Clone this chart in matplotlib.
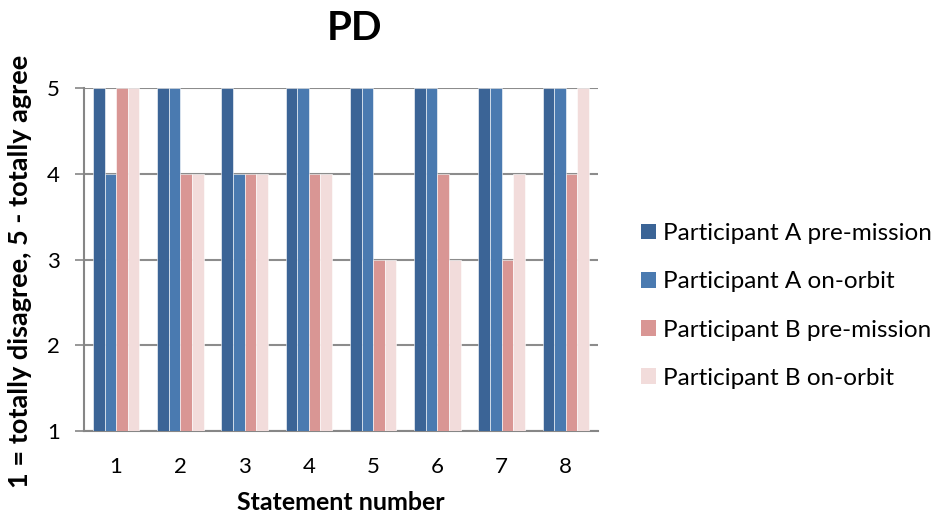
import numpy as np
import matplotlib.pyplot as plt
from matplotlib.patches import Patch

plt.rcParams['font.family'] = ['Lato', 'DejaVu Sans']

# Agreement ratings (1-5) per statement
statements = [1, 2, 3, 4, 5, 6, 7, 8]
a_pre = [5, 5, 5, 5, 5, 5, 5, 5]
a_orbit = [4, 5, 4, 5, 5, 5, 5, 5]
b_pre = [5, 4, 4, 4, 3, 4, 3, 4]
b_orbit = [5, 4, 4, 4, 3, 3, 4, 5]

series = [
    ('Participant A pre-mission', a_pre, '#3B6496'),
    ('Participant A on-orbit', a_orbit, '#4A7AB0'),
    ('Participant B pre-mission', b_pre, '#D99694'),
    ('Participant B on-orbit', b_orbit, '#F2DCDB'),
]

fig = plt.figure(figsize=(9.45, 5.21), dpi=100)
ax = fig.add_axes([84 / 945, 1 - 431 / 521, 514 / 945, 343 / 521])

x = np.arange(len(statements)) + 1
w = 0.18
for i, (name, vals, col) in enumerate(series):
    vals = np.array(vals)
    ax.bar(x + (i - 1.5) * w, vals - 1, w, bottom=1, color=col,
           edgecolor='white', linewidth=0.4, zorder=3)

ax.set_xlim(0.5, 8.5)
ax.set_ylim(1, 5)
ax.set_yticks([1, 2, 3, 4, 5])
ax.set_xticks(x)
ax.tick_params(axis='x', length=0, labelsize=16, pad=19)
ax.tick_params(axis='y', length=6.5, color='#868686', width=1.2, labelsize=16, pad=11)
ax.yaxis.grid(True, color='#8C8C8C', linewidth=1.5, zorder=0)
for s in ['top', 'right']:
    ax.spines[s].set_visible(False)
for s in ['left', 'bottom']:
    ax.spines[s].set_color('#868686')
    ax.spines[s].set_linewidth(1.5)

ax.set_xlabel('Statement number', fontsize=18, fontweight='bold', labelpad=10)
ax.set_ylabel('1 = totally disagree, 5 - totally agree', fontsize=19.5,
              fontweight='bold')
ax.yaxis.set_label_coords(-0.102, 0.465)
fig.text(355 / 945, 1 - 28 / 521, 'PD', fontsize=29, fontweight='bold',
         ha='center', va='center')

handles = [Patch(facecolor=c, label=n) for n, _, c in series]
fig.legend(handles=handles, loc='center left', bbox_to_anchor=(619 / 945, 1 - 306 / 521),
           frameon=False, fontsize=17.5, handlelength=0.62, handleheight=0.62,
           handletextpad=0.3, labelspacing=1.12)

fig.savefig('out.png', dpi=100)
